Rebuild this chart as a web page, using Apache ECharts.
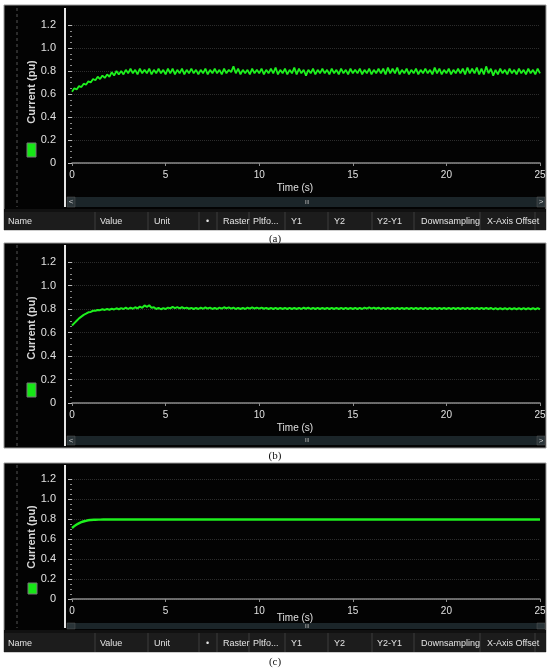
<!DOCTYPE html>
<html>
<head>
<meta charset="utf-8">
<script src="https://cdn.jsdelivr.net/npm/echarts@6/dist/echarts.min.js"></script>
<style>
  html, body { margin: 0; padding: 0; background: #fff; }
  #chart { width: 550px; height: 669px; }
</style>
</head>
<body>
<div id="chart"></div>
<script>
// sampling step of the recorded traces (s)
const dt = 0.125;

// (a) current, noisy ripple
const currentA = [
  0.62,0.65,0.64,0.67,0.66,0.69,0.68,0.71,0.70,0.73,0.72,0.75,0.73,0.76,0.74,0.77,
  0.75,0.79,0.76,0.80,0.77,0.80,0.77,0.81,0.78,0.82,0.78,0.81,0.77,0.82,0.78,0.81,
  0.78,0.82,0.77,0.81,0.78,0.82,0.78,0.81,0.77,0.82,0.78,0.82,0.77,0.81,0.78,0.82,
  0.77,0.81,0.78,0.82,0.78,0.81,0.77,0.81,0.78,0.82,0.77,0.81,0.78,0.82,0.78,0.81,
  0.77,0.82,0.78,0.81,0.79,0.84,0.78,0.82,0.77,0.81,0.78,0.81,0.77,0.82,0.78,0.81,
  0.78,0.82,0.77,0.81,0.78,0.82,0.78,0.83,0.77,0.81,0.78,0.82,0.77,0.81,0.78,0.83,
  0.77,0.82,0.78,0.81,0.76,0.81,0.78,0.82,0.77,0.81,0.78,0.82,0.78,0.81,0.77,0.82,
  0.78,0.81,0.77,0.82,0.78,0.81,0.77,0.82,0.78,0.81,0.78,0.82,0.77,0.81,0.78,0.82,
  0.77,0.81,0.78,0.82,0.78,0.82,0.77,0.83,0.78,0.82,0.78,0.83,0.77,0.81,0.78,0.82,
  0.77,0.81,0.78,0.82,0.77,0.81,0.78,0.82,0.78,0.81,0.77,0.83,0.78,0.82,0.77,0.81,
  0.78,0.82,0.77,0.81,0.78,0.82,0.78,0.82,0.77,0.83,0.78,0.82,0.78,0.83,0.77,0.82,
  0.77,0.84,0.78,0.82,0.76,0.81,0.77,0.82,0.78,0.81,0.77,0.82,0.78,0.81,0.77,0.82,
  0.78,0.81,0.77,0.82,0.78,0.81,0.77,0.82,0.78
];

// (b) current, small ripple
const currentB = [
  0.66,0.68,0.70,0.72,0.735,0.75,0.76,0.772,0.775,0.785,0.785,0.792,0.79,0.798,0.792,0.80,
  0.794,0.802,0.796,0.806,0.798,0.808,0.80,0.812,0.80,0.812,0.802,0.815,0.805,0.82,0.81,0.83,
  0.818,0.832,0.81,0.815,0.80,0.81,0.798,0.808,0.80,0.812,0.805,0.818,0.808,0.816,0.806,0.815,
  0.805,0.812,0.802,0.81,0.80,0.81,0.80,0.812,0.802,0.814,0.804,0.812,0.80,0.81,0.80,0.812,
  0.803,0.815,0.805,0.814,0.803,0.812,0.80,0.81,0.80,0.81,0.80,0.812,0.803,0.814,0.804,0.812,
  0.803,0.812,0.802,0.81,0.80,0.81,0.80,0.81,0.80,0.81,0.80,0.81,0.80,0.81,0.80,0.81,
  0.80,0.81,0.80,0.812,0.802,0.812,0.80,0.81,0.80,0.81,0.80,0.81,0.80,0.81,0.80,0.81,
  0.80,0.81,0.80,0.81,0.80,0.81,0.80,0.81,0.80,0.81,0.80,0.81,0.80,0.812,0.803,0.813,
  0.803,0.812,0.802,0.812,0.80,0.81,0.80,0.81,0.80,0.81,0.80,0.81,0.80,0.81,0.80,0.81,
  0.80,0.81,0.80,0.81,0.80,0.81,0.80,0.81,0.80,0.81,0.80,0.81,0.80,0.81,0.80,0.81,
  0.80,0.81,0.80,0.81,0.80,0.81,0.80,0.81,0.80,0.81,0.80,0.81,0.80,0.81,0.80,0.81,
  0.80,0.81,0.80,0.81,0.798,0.808,0.798,0.808,0.798,0.808,0.798,0.808,0.798,0.808,0.798,0.808,
  0.798,0.808,0.798,0.808,0.798,0.808,0.798,0.808,0.798
];

// (c) current, smooth
const timeC = [0, 0.25, 0.5, 0.75, 1, 1.25, 1.5, 2, 3, 5, 10, 15, 20, 25];
const currentC = [0.71, 0.745, 0.768, 0.782, 0.79, 0.793, 0.794, 0.795, 0.795, 0.795, 0.795, 0.795, 0.795, 0.795];

const tableHeaders = ['Name', 'Value', 'Unit', '\u2022', 'Raster', 'Pltfo...', 'Y1', 'Y2', 'Y2-Y1', 'Downsampling', 'X-Axis Offset'];

// layout of the three panels (pixels)
const panels = [
  { cap: '(a)', top: 5, bottom: 230, axTop: 8, axBot: 207, gTop: 25, gH: 138, timeY: 188,
    scroll: [197, 10], table: [212, 18], legend: [27, 143, 9, 14], labelY: 92, capY: 239 },
  { cap: '(b)', top: 243, bottom: 448, axTop: 245, axBot: 446, gTop: 262, gH: 141, timeY: 428,
    scroll: [436, 9], table: null, legend: [27, 383, 9, 14], labelY: 328, capY: 456 },
  { cap: '(c)', top: 463, bottom: 652, axTop: 465, axBot: 628, gTop: 479, gH: 120, timeY: 618,
    scroll: [623, 6], table: [633, 19], legend: [28, 583, 9, 11], labelY: 537, capY: 662 }
];
const colX = [8, 100, 154, 206, 223, 253, 291, 334, 377, 421, 487];
const sepX = [95, 148, 199, 217, 249, 285, 328, 372, 414, 480, 535];

const narrow = "'Liberation Sans Narrow', 'Liberation Sans', Arial, sans-serif";
const green = '#1ef01e';

const chart = echarts.init(document.getElementById('chart'));

const grids = [], xAxes = [], yAxes = [], series = [], graphics = [];

panels.forEach((p, i) => {
  grids.push({ left: 72, right: 10, top: p.gTop, height: p.gH });
  xAxes.push({
    type: 'value', gridIndex: i, min: 0, max: 25, interval: 5,
    axisLine: { lineStyle: { color: '#8a8a8a', width: 1.5 } },
    axisTick: { length: 3, lineStyle: { color: '#8a8a8a' } },
    axisLabel: { color: '#e0e0e0', fontSize: 10, fontFamily: narrow, margin: 7 },
    splitLine: { show: false }
  });
  yAxes.push({
    type: 'value', gridIndex: i, min: 0, max: 1.2, interval: 0.2, offset: 7,
    axisLine: { show: false },
    axisTick: { show: true, length: 4, lineStyle: { color: '#bbb' } },
    minorTick: { show: true, splitNumber: 4, length: 2, lineStyle: { color: '#888' } },
    axisLabel: { color: '#e0e0e0', fontSize: 11, fontFamily: narrow, margin: 9,
      formatter: v => v === 0 ? '0' : v.toFixed(1) },
    splitLine: { show: true, lineStyle: { color: '#2c2c2c', type: 'dotted' } }
  });

  // panel frame and decorations
  graphics.push(
    { type: 'rect', z: -10, shape: { x: 4, y: p.top, width: 542, height: p.bottom - p.top },
      style: { fill: '#030303', stroke: '#9a9a9a', lineWidth: 1 } },
    { type: 'line', shape: { x1: 17, y1: p.axTop, x2: 17, y2: p.axBot },
      style: { stroke: '#555', lineWidth: 1, lineDash: [3, 3] } },
    { type: 'line', shape: { x1: 65, y1: p.axTop, x2: 65, y2: p.axBot },
      style: { stroke: '#e6e6e6', lineWidth: 2 } },
    { type: 'rect', shape: { x: p.legend[0], y: p.legend[1], width: p.legend[2], height: p.legend[3] },
      style: { fill: '#16e616', stroke: '#777', lineWidth: 1 } },
    { type: 'text', x: 32, y: p.labelY, rotation: Math.PI / 2,
      style: { text: 'Current (pu)', fill: '#d8d8d8', font: "bold 11px 'Liberation Sans', Arial, sans-serif",
        align: 'center', verticalAlign: 'middle' } },
    { type: 'text', x: 295, y: p.timeY,
      style: { text: 'Time (s)', fill: '#e0e0e0', font: '10px ' + narrow, align: 'center', verticalAlign: 'middle' } },
    { type: 'rect', shape: { x: 67, y: p.scroll[0], width: 478, height: p.scroll[1] },
      style: { fill: '#1b2529' } },
    { type: 'rect', shape: { x: 67, y: p.scroll[0], width: 8, height: p.scroll[1] },
      style: { fill: '#2a3438', stroke: '#555', lineWidth: 0.5 } },
    { type: 'rect', shape: { x: 537, y: p.scroll[0], width: 8, height: p.scroll[1] },
      style: { fill: '#2a3438', stroke: '#555', lineWidth: 0.5 } },
    { type: 'text', x: 71, y: p.scroll[0] + p.scroll[1] / 2,
      style: { text: p.scroll[1] > 7 ? '<' : '', fill: '#ccc', font: '8px ' + narrow, align: 'center', verticalAlign: 'middle' } },
    { type: 'text', x: 541, y: p.scroll[0] + p.scroll[1] / 2,
      style: { text: p.scroll[1] > 7 ? '>' : '', fill: '#ccc', font: '8px ' + narrow, align: 'center', verticalAlign: 'middle' } },
    { type: 'text', x: 307, y: p.scroll[0] + p.scroll[1] / 2,
      style: { text: 'III', fill: '#aaa', font: '6px ' + narrow, align: 'center', verticalAlign: 'middle' } },
    { type: 'text', x: 275, y: p.capY,
      style: { text: p.cap, fill: '#111', font: "11px 'Liberation Serif', 'DejaVu Serif', serif", align: 'center', verticalAlign: 'middle' } }
  );

  if (p.table) {
    const ty = p.table[0], th = p.table[1];
    graphics.push(
      { type: 'rect', shape: { x: 4, y: ty - 3, width: 542, height: 3 }, style: { fill: '#111' } },
      { type: 'rect', shape: { x: 4, y: ty, width: 542, height: th }, style: { fill: '#1c1c1c' } }
    );
    sepX.forEach(x => graphics.push({ type: 'line', shape: { x1: x, y1: ty, x2: x, y2: ty + th },
      style: { stroke: '#3c3c3c', lineWidth: 1 } }));
    tableHeaders.forEach((t, k) => graphics.push({ type: 'text', x: colX[k], y: ty + th / 2 + 1,
      style: { text: t, fill: '#e4e4e4', font: '9px ' + narrow, align: 'left', verticalAlign: 'middle' } }));
  }
});

series.push(
  { type: 'line', xAxisIndex: 0, yAxisIndex: 0, showSymbol: false,
    data: currentA.map((v, k) => [k * dt, v]), lineStyle: { color: green, width: 1.8 } },
  { type: 'line', xAxisIndex: 1, yAxisIndex: 1, showSymbol: false,
    data: currentB.map((v, k) => [k * dt, v]), lineStyle: { color: green, width: 2 } },
  { type: 'line', xAxisIndex: 2, yAxisIndex: 2, showSymbol: false, smooth: true,
    data: timeC.map((t, k) => [t, currentC[k]]), lineStyle: { color: green, width: 2.4 } }
);

chart.setOption({
  backgroundColor: '#fff',
  animation: false,
  grid: grids,
  xAxis: xAxes,
  yAxis: yAxes,
  series: series,
  graphic: { elements: graphics }
});
</script>
</body>
</html>
